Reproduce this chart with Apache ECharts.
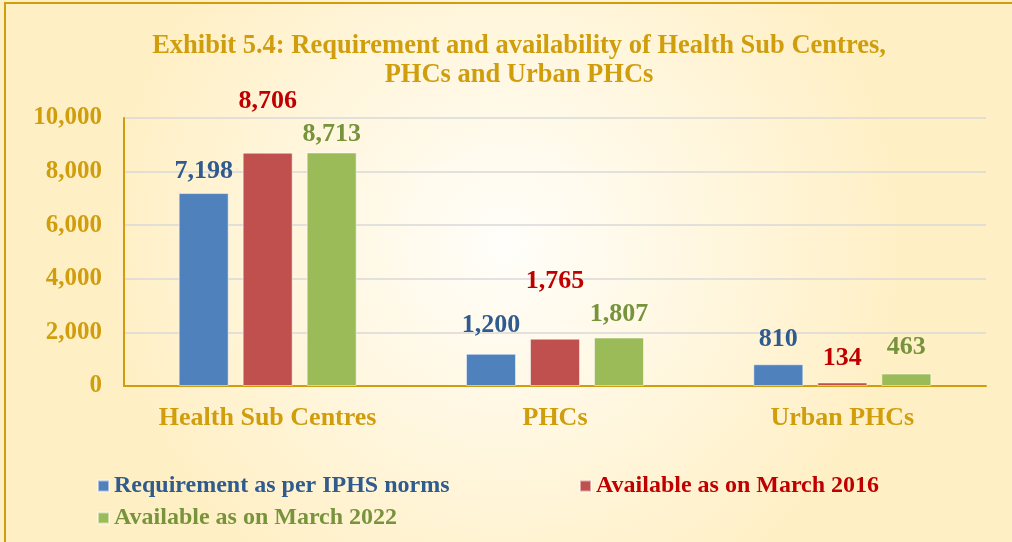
<!DOCTYPE html>
<html>
<head>
<meta charset="utf-8">
<script src="https://cdn.jsdelivr.net/npm/echarts@6/dist/echarts.min.js"></script>
<style>
  html, body { margin: 0; padding: 0; }
  #chart { width: 1012px; height: 542px; }
</style>
</head>
<body>
<div id="chart"></div>
<script>
var categories = ['Health Sub Centres', 'PHCs', 'Urban PHCs'];
var seriesNames = ['Requirement as per IPHS norms', 'Available as on March 2016', 'Available as on March 2022'];
var requirement = [7198, 1200, 810];
var available2016 = [8706, 1765, 134];
var available2022 = [8713, 1807, 463];
var yTicks = [0, 2000, 4000, 6000, 8000, 10000];

var gold = '#D09E0C';
var barColors = ['#4F81BD', '#C0504D', '#9BBB59'];
var textColors = ['#2F5B8F', '#C00000', '#77933C'];
// extra vertical nudge for each value label (the source places them by hand)
var labelLift = [[-5, -12, -8], [-34, -40, -7], [-1, -6, -9]];

function fmt(v) {
  return v.toLocaleString('en-US');
}

function buildSeries(idx, values) {
  var data = [];
  for (var i = 0; i < values.length; ++i) {
    data.push({
      value: values[i],
      label: {offset: [0, labelLift[idx][i]]}
    });
  }
  return {
    name: seriesNames[idx],
    type: 'bar',
    barWidth: 50,
    barGap: '28%',
    itemStyle: {color: barColors[idx], borderColor: 'rgba(255,255,255,0.5)', borderWidth: 1},
    label: {
      show: true,
      position: 'top',
      distance: 4,
      color: textColors[idx],
      fontFamily: 'Liberation Serif',
      fontWeight: 'bold',
      fontSize: 26,
      formatter: function(p) { return fmt(p.value); }
    },
    data: data
  };
}

function buildLegend(idx, left, top) {
  return {
    data: [{name: seriesNames[idx], textStyle: {color: textColors[idx]}}],
    left: left,
    top: top,
    padding: 0,
    itemWidth: 11,
    itemHeight: 11,
    icon: 'rect',
    textStyle: {fontFamily: 'Liberation Serif', fontWeight: 'bold', fontSize: 24}
  };
}

var chart = echarts.init(document.getElementById('chart'));
chart.setOption({
  animation: false,
  backgroundColor: {
    type: 'radial', x: 0.5, y: 0.45, r: 0.75,
    colorStops: [{offset: 0, color: '#FFFEFA'}, {offset: 1, color: '#FFEFC4'}]
  },
  graphic: [{
    type: 'rect',
    shape: {x: 5, y: 3, width: 1200, height: 700},
    style: {fill: 'none', stroke: gold, lineWidth: 2},
    silent: true
  }],
  title: {
    text: 'Exhibit 5.4: Requirement and availability of Health Sub Centres,\nPHCs and Urban PHCs',
    left: 514,
    textAlign: 'center',
    top: 27,
    textStyle: {
      color: gold,
      fontFamily: 'Liberation Serif',
      fontWeight: 'bold',
      fontSize: 26.5,
      lineHeight: 29
    }
  },
  legend: [
    buildLegend(0, 97, 474),
    buildLegend(1, 579, 474),
    buildLegend(2, 97, 506)
  ],
  grid: {left: 124, right: 26, top: 118, bottom: 156},
  xAxis: {
    type: 'category',
    data: categories,
    axisLine: {lineStyle: {color: gold, width: 2}},
    axisTick: {show: false},
    axisLabel: {
      color: gold,
      fontFamily: 'Liberation Serif',
      fontWeight: 'bold',
      fontSize: 26,
      margin: 19
    }
  },
  yAxis: {
    type: 'value',
    min: yTicks[0],
    max: yTicks[yTicks.length - 1],
    interval: yTicks[1] - yTicks[0],
    axisLine: {show: true, lineStyle: {color: gold, width: 2}},
    axisTick: {show: false},
    splitLine: {lineStyle: {color: '#D9D9D9', width: 1.5}},
    axisLabel: {
      color: gold,
      fontFamily: 'Liberation Serif',
      fontWeight: 'bold',
      fontSize: 25,
      margin: 22,
      formatter: function(v) { return fmt(v); }
    }
  },
  series: [
    buildSeries(0, requirement),
    buildSeries(1, available2016),
    buildSeries(2, available2022)
  ]
});
</script>
</body>
</html>
